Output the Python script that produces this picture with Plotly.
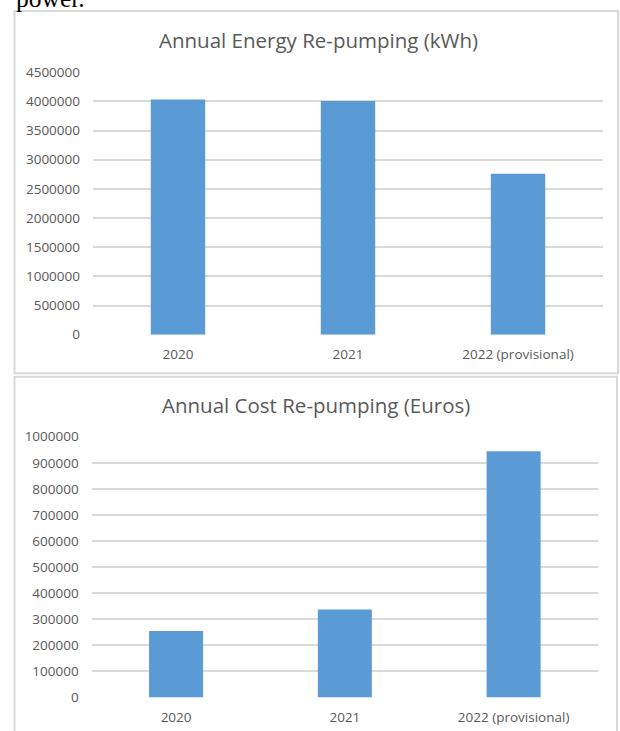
import plotly.graph_objects as go

# ---- data ----
years = ["2020", "2021", "2022 (provisional)"]
energy_kwh = [4032000, 4008000, 2758000]
cost_eur = [255000, 338000, 944000]

energy_title = "Annual Energy Re-pumping (kWh)"
cost_title = "Annual Cost Re-pumping (Euros)"
energy_ticks = [0, 500000, 1000000, 1500000, 2000000, 2500000, 3000000, 3500000, 4000000, 4500000]
cost_ticks = [0, 100000, 200000, 300000, 400000, 500000, 600000, 700000, 800000, 900000, 1000000]

W, H = 620, 731
BAR = "#5b9bd5"
GRID = "#d9d9d9"
TXT = "#595959"
FONT = "Open Sans"

# vertical compensation for how the page is photographed
VS, VOFF = 0.977, 7.6


def px(x):
    return x / W


def py(y):
    return 1 - ((y - VOFF) / VS) / H


fig = go.Figure()
fig.add_trace(go.Bar(x=years, y=energy_kwh, marker_color=BAR, marker_line_width=0,
                     xaxis="x", yaxis="y", showlegend=False))
fig.add_trace(go.Bar(x=years, y=cost_eur, marker_color=BAR, marker_line_width=0,
                     xaxis="x2", yaxis="y2", showlegend=False))

xfont = dict(family=FONT, size=13.5, color=TXT)
yfont = dict(family=FONT, size=13.5, color=TXT)

fig.update_layout(
    width=W, height=H,
    margin=dict(l=0, r=0, t=0, b=0),
    paper_bgcolor="white", plot_bgcolor="white",
    bargap=0.68,
    font=dict(family=FONT, color=TXT),
    xaxis=dict(domain=[px(93), px(603)], anchor="y", showgrid=False, showline=False,
               zeroline=False, ticks="", tickfont=xfont, ticklabelstandoff=10),
    yaxis=dict(domain=[py(333.8), py(71)], anchor="x", range=[0, 4500000],
               tickvals=energy_ticks, tickformat="d", showgrid=True, showline=False,
               zeroline=False, ticks="", tickfont=yfont,
               gridcolor=GRID, gridwidth=1.5, ticklabelstandoff=12),
    xaxis2=dict(domain=[px(91.7), px(598)], anchor="y2", showgrid=False, showline=False,
                zeroline=False, ticks="", tickfont=xfont, ticklabelstandoff=10),
    yaxis2=dict(domain=[py(697.3), py(436)], anchor="x2", range=[0, 1000000],
                tickvals=cost_ticks, tickformat="d", showgrid=True, showline=False,
                zeroline=False, ticks="", tickfont=yfont,
                gridcolor=GRID, gridwidth=1.5, ticklabelstandoff=12),
    shapes=[
        dict(type="rect", xref="paper", yref="paper",
             x0=px(14.5), x1=px(618), y0=py(372.5), y1=py(9.5),
             line=dict(color=GRID, width=2), fillcolor="rgba(0,0,0,0)", layer="below"),
        dict(type="rect", xref="paper", yref="paper",
             x0=px(14.5), x1=px(617), y0=py(770), y1=py(376),
             line=dict(color=GRID, width=2), fillcolor="rgba(0,0,0,0)", layer="below"),
    ],
    annotations=[
        dict(text=energy_title, xref="paper", yref="paper", x=px(318), y=py(38.5),
             xanchor="center", yanchor="middle", showarrow=False,
             font=dict(family=FONT, size=20.5, color=TXT)),
        dict(text=cost_title, xref="paper", yref="paper", x=px(316), y=py(404.5),
             xanchor="center", yanchor="middle", showarrow=False,
             font=dict(family=FONT, size=20.5, color=TXT)),
        dict(text="power.", xref="paper", yref="paper", x=px(14), y=py(13.5),
             xanchor="left", yanchor="bottom", showarrow=False,
             font=dict(family="Liberation Serif", size=25.5, color="black")),
    ],
)

post = (
    "document.documentElement.style.margin='0';"
    "document.documentElement.style.padding='0';"
    "document.documentElement.style.overflow='hidden';"
    "document.body.style.margin='0';"
    "document.body.style.padding='0';"
    "document.body.style.overflow='hidden';"
    "var d=document.getElementById('{plot_id}');"
    "d.style.position='fixed';d.style.top='0px';d.style.left='0px';"
)

fig.write_html("out.html", config={"displayModeBar": False}, post_script=post)
